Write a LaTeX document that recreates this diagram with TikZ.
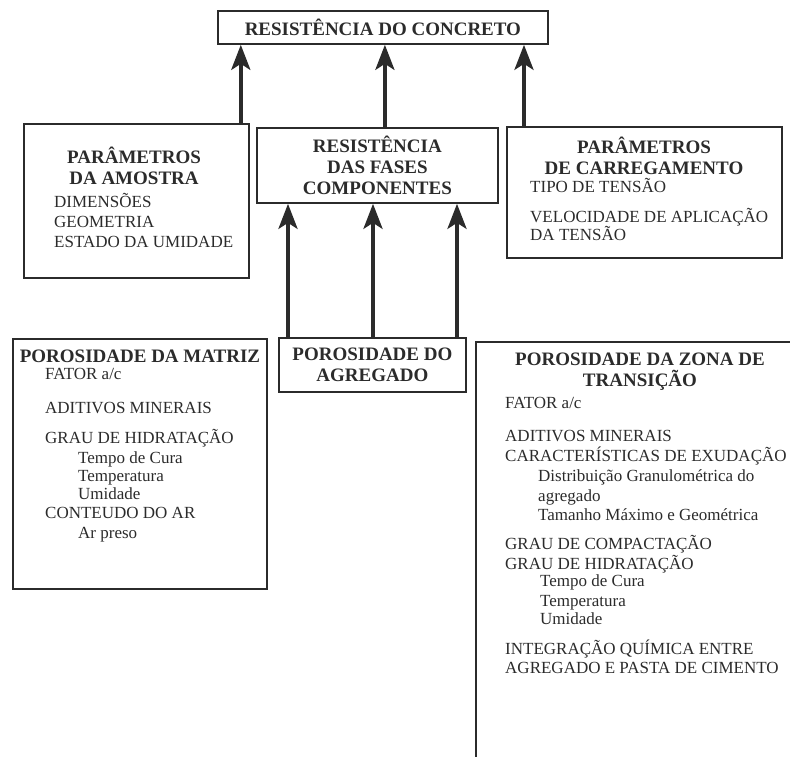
\documentclass[tikz,border=0pt]{standalone}
\usepackage{fontspec}
\setmainfont{Liberation Serif}
\usetikzlibrary{arrows.meta}
\definecolor{ink}{HTML}{2B2B2B}
\newcommand{\bigtxt}{\fontsize{19}{21}\selectfont\bfseries}
\newcommand{\smalltxt}{\fontsize{17}{20}\selectfont}

\begin{document}
\begin{tikzpicture}[x=1pt,y=-1pt,
  box/.style={draw=ink,line width=1.8pt,anchor=north west,inner sep=0pt,
    align=center,font=\bigtxt,text=ink},
  head/.style={font=\bigtxt,align=center,text=ink,inner sep=0pt},
  item/.style={font=\smalltxt,anchor=base west,text=ink,inner sep=0pt},
  up/.style={draw=ink,line width=4pt,-{Stealth[length=25pt,width=19pt,inset=6pt]}}]
\clip (0,0) rectangle (790,756);
% caixas
\node[box,minimum width=330,minimum height=33] (concreto) at (217,10) {RESISTÊNCIA DO CONCRETO};
\node[box,minimum width=225,minimum height=154] (amostra) at (23,123) {};
\node[box,minimum width=241,minimum height=75] (fases) at (256,127) {RESISTÊNCIA\\DAS FASES\\COMPONENTES};
\node[box,minimum width=275,minimum height=131] (carregamento) at (506,126) {};
\node[box,minimum width=254,minimum height=250] (matriz) at (12,338) {};
\node[box,minimum width=187,minimum height=54] (agregado) at (278,337) {POROSIDADE DO\\AGREGADO};
\node[box,minimum width=340,minimum height=440] (transicao) at (475,341) {};
% titulos
\node[head] (amostra-t) at (134,166) {PARÂMETROS\\DA AMOSTRA};
\node[head] (carregamento-t) at (644,156) {PARÂMETROS\\DE CARREGAMENTO};
\node[head] (matriz-t) at (140,356) {POROSIDADE DA MATRIZ};
\node[head] (transicao-t) at (640,372) {POROSIDADE DA ZONA DE\\TRANSIÇÃO};
% itens
\foreach \y/\t [count=\i] in {207/DIMENSÕES, 227/GEOMETRIA, 247/ESTADO DA UMIDADE}
  \node[item] (amostra-\i) at (54,\y) {\t};
\foreach \y/\t [count=\i] in {192/TIPO DE TENSÃO, 222/VELOCIDADE DE APLICAÇÃO, 240/DA TENSÃO}
  \node[item] (carregamento-\i) at (530,\y) {\t};
\foreach \x/\y/\t [count=\i] in {45/379/{FATOR a/c}, 45/413/ADITIVOS MINERAIS,
    45/443/GRAU DE HIDRATAÇÃO, 78/463/Tempo de Cura, 78/481/Temperatura,
    78/499/Umidade, 45/518/CONTEUDO DO AR, 78/538/Ar preso}
  \node[item] (matriz-\i) at (\x,\y) {\t};
\foreach \x/\y/\t [count=\i] in {505/408/{FATOR a/c}, 505/441/ADITIVOS MINERAIS,
    505/461/CARACTERÍSTICAS DE EXUDAÇÃO, 538/481/Distribuição Granulométrica do,
    538/501/agregado, 538/520/Tamanho Máximo e Geométrica,
    505/549/GRAU DE COMPACTAÇÃO, 505/569/GRAU DE HIDRATAÇÃO,
    540/586/Tempo de Cura, 540/606/Temperatura, 540/624/Umidade,
    505/654/INTEGRAÇÃO QUÍMICA ENTRE, 505/673/AGREGADO E PASTA DE CIMENTO}
  \node[item] (transicao-\i) at (\x,\y) {\t};
% setas
\draw[up] ([xshift=-9]amostra.north east) -- ([xshift=-9]amostra.north east |- concreto.south);
\draw[up] ([xshift=7.5]fases.north) -- ([xshift=7.5]fases.north |- concreto.south);
\draw[up] ([xshift=18]carregamento.north west) -- ([xshift=18]carregamento.north west |- concreto.south);
\foreach \dx in {10,95,179}
  \draw[up] ([xshift=\dx]agregado.north west) -- ([xshift=\dx]agregado.north west |- fases.south);
\end{tikzpicture}
\end{document}
